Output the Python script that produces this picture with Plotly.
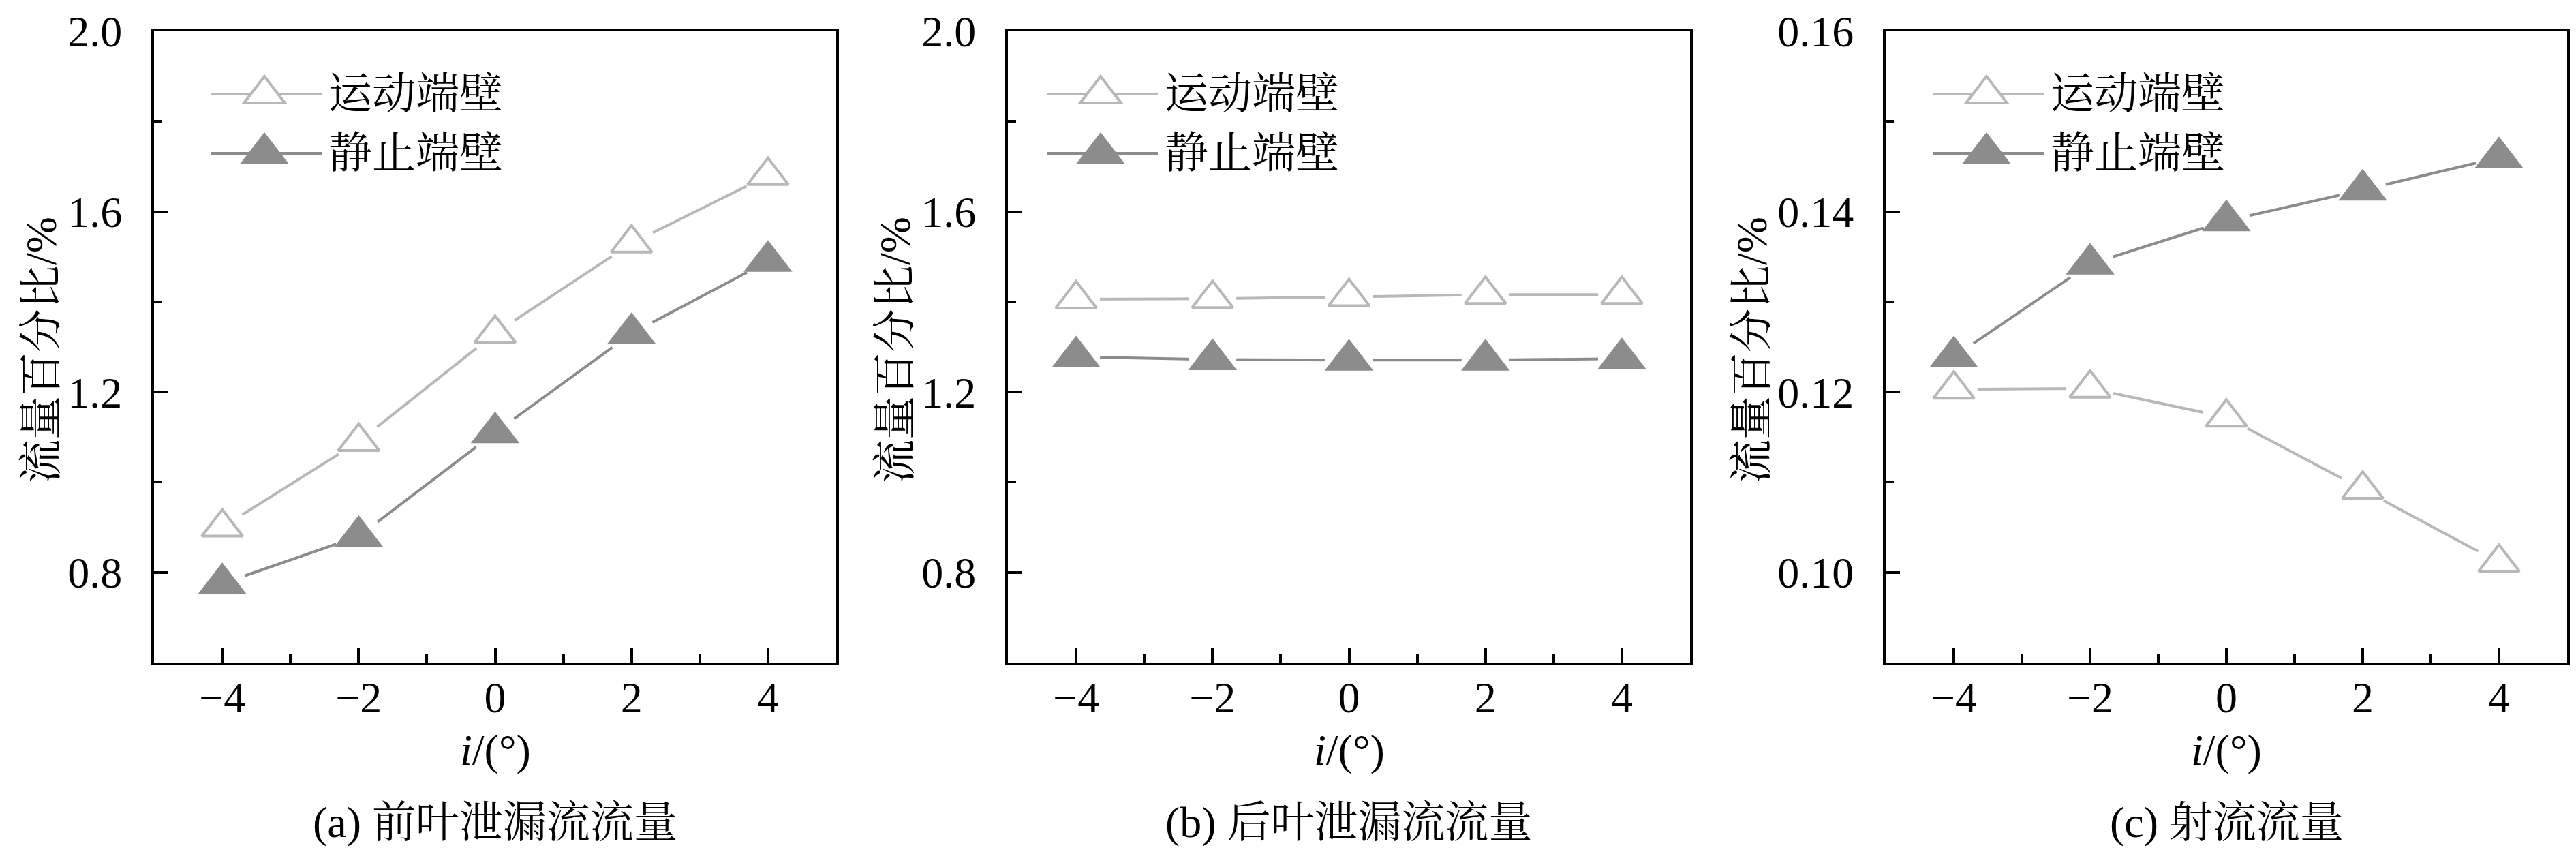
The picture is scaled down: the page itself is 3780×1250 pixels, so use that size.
import plotly.graph_objects as go

# 冲角 i/(°)
incidence = [-4, -2, 0, 2, 4]

# (a) 前叶泄漏流流量
a_moving = [0.90, 1.09, 1.33, 1.53, 1.68]
a_static = [0.775, 0.88, 1.11, 1.33, 1.49]

# (b) 后叶泄漏流流量
b_moving = [1.406, 1.407, 1.411, 1.416, 1.416]
b_static = [1.278, 1.272, 1.271, 1.271, 1.274]

# (c) 射流流量
c_moving = [0.1203, 0.1204, 0.1172, 0.1092, 0.1011]
c_static = [0.1239, 0.1342, 0.1390, 0.1424, 0.1460]

series_names = ["运动端壁", "静止端壁"]
captions = ["(a) 前叶泄漏流流量", "(b) 后叶泄漏流流量", "(c) 射流流量"]
y_title = "流量百分比/%"
x_title = "<i>i</i>/(°)"

# 画布尺寸(像素)及版式
W, H = 3780, 1250
FONT = "Liberation Serif, Noto Serif CJK SC, Noto Sans CJK SC"
LIGHT = "#b8b8b8"
DARK = "#8c8c8c"
S_OPEN, S_FILL = 52, 62

panels = [
    dict(moving=a_moving, static=a_static, box=(218, 1219), yrange=[0.6, 2.0],
         dtick=0.4, minor=0.2, fmt=".1f", ytx=52, leg=301),
    dict(moving=b_moving, static=b_static, box=(1471, 2472), yrange=[0.6, 2.0],
         dtick=0.4, minor=0.2, fmt=".1f", ytx=1305, leg=1528),
    dict(moving=c_moving, static=c_static, box=(2759, 3759), yrange=[0.09, 0.16],
         dtick=0.02, minor=0.01, fmt=".2f", ytx=2562, leg=2828),
]
TOP, BOTTOM = 38, 964


def px(x):
    return x / W


def py(y):
    return 1 - y / H


def tri_path(cx, cy, s):
    # 与 plotly triangle-up 标记同样比例
    r = s / 2
    rt = r * 2 / 3 ** 0.5
    pts = [(cx - rt, cy + r / 2), (cx + rt, cy + r / 2), (cx, cy - r)]
    return "M" + " L".join(f"{px(x):.5f},{py(y):.5f}" for x, y in pts) + " Z"


fig = go.Figure()
shapes, annotations = [], []

for i, p in enumerate(panels):
    sfx = "" if i == 0 else str(i + 1)
    xa, ya = "x" + sfx, "y" + sfx

    # 折线
    for vals, color in [(p["static"], DARK), (p["moving"], LIGHT)]:
        fig.add_trace(go.Scatter(x=incidence, y=vals, mode="lines", xaxis=xa, yaxis=ya,
                                 line=dict(color=color, width=4), showlegend=False,
                                 hoverinfo="skip"))
    # 标记周围留白
    for vals in [p["static"], p["moving"]]:
        fig.add_trace(go.Scatter(x=incidence, y=vals, mode="markers", xaxis=xa, yaxis=ya,
                                 marker=dict(symbol="circle", size=70, color="white"),
                                 showlegend=False, hoverinfo="skip"))
    # 标记
    fig.add_trace(go.Scatter(x=incidence, y=p["moving"], mode="markers", xaxis=xa, yaxis=ya,
                             name=series_names[0], showlegend=False,
                             marker=dict(symbol="triangle-up", size=S_OPEN, color="white",
                                         line=dict(color=LIGHT, width=4))))
    fig.add_trace(go.Scatter(x=incidence, y=p["static"], mode="markers", xaxis=xa, yaxis=ya,
                             name=series_names[1], showlegend=False,
                             marker=dict(symbol="triangle-up", size=S_FILL, color=DARK,
                                         line=dict(width=0))))

    x0, x1 = p["box"]
    axis_common = dict(
        showline=True, linewidth=4, linecolor="black", mirror=True,
        ticks="inside", ticklen=21, tickwidth=4, tickcolor="black",
        showgrid=False, zeroline=False, automargin=False,
        tickfont=dict(family=FONT, size=64, color="black"),
    )
    fig.update_layout({
        "xaxis" + sfx: dict(axis_common, domain=[px(x0), px(x1)], range=[-5, 5],
                            tick0=0, dtick=2, anchor=ya, ticklabelstandoff=-8,
                            minor=dict(ticks="inside", ticklen=12, tickwidth=4,
                                       tickcolor="black", dtick=1)),
        "yaxis" + sfx: dict(axis_common, domain=[py(BOTTOM), py(TOP)], range=p["yrange"],
                            tick0=0, dtick=p["dtick"], tickformat=p["fmt"], anchor=xa,
                            ticklabelstandoff=30,
                            minor=dict(ticks="inside", ticklen=12, tickwidth=4,
                                       tickcolor="black", dtick=p["minor"])),
    })

    # 坐标轴标题与分图标题
    cx = (x0 + x1) / 2
    annotations.append(dict(text=y_title, x=px(p["ytx"]), y=py(506), xref="paper", yref="paper",
                            textangle=-90, showarrow=False, xanchor="center", yanchor="middle",
                            font=dict(family=FONT, size=64, color="black")))
    annotations.append(dict(text=x_title, x=px(cx), y=py(1092), xref="paper", yref="paper",
                            showarrow=False, xanchor="center", yanchor="middle",
                            font=dict(family=FONT, size=64, color="black")))
    annotations.append(dict(text=captions[i], x=px(cx), y=py(1198), xref="paper", yref="paper",
                            showarrow=False, xanchor="center", yanchor="middle",
                            font=dict(family=FONT, size=64, color="black")))

    # 图例
    L = p["leg"]
    for row, (name, color, size, fill) in enumerate([
        (series_names[0], LIGHT, S_OPEN, "white"),
        (series_names[1], DARK, S_FILL, DARK),
    ]):
        ry = 130 + row * 87
        shapes.append(dict(type="line", xref="paper", yref="paper", x0=px(L), x1=px(L + 163),
                           y0=py(ry), y1=py(ry), line=dict(color=color, width=4)))
        shapes.append(dict(type="path", xref="paper", yref="paper", path=tri_path(L + 79, ry, size),
                           fillcolor=fill,
                           line=dict(color=color, width=4 if fill == "white" else 0)))
        annotations.append(dict(text=name, x=px(L + 171), y=py(ry), xref="paper", yref="paper",
                                showarrow=False, xanchor="left", yanchor="middle",
                                font=dict(family=FONT, size=64, color="black")))

fig.update_layout(
    width=W, height=H,
    margin=dict(l=0, r=0, t=0, b=0),
    paper_bgcolor="white", plot_bgcolor="white",
    showlegend=False,
    shapes=shapes, annotations=annotations,
)

fig.write_html("out.html")
